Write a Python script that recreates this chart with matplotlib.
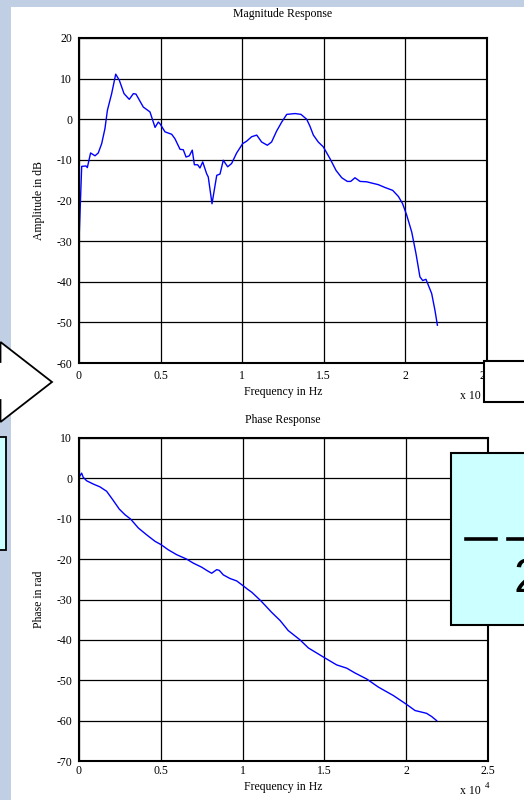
import matplotlib
matplotlib.use("Agg")
import matplotlib.pyplot as plt
from matplotlib.patches import Rectangle, Polygon
from matplotlib.lines import Line2D

plt.rcParams["font.family"] = ["Liberation Serif", "DejaVu Serif"]
plt.rcParams["axes.unicode_minus"] = False

W, H = 524, 800

# frequency in units of 1e4 Hz, magnitude in dB
mag_freq = [0.0, 0.0165, 0.043, 0.051, 0.071, 0.098, 0.118, 0.139, 0.159, 0.174,
            0.2, 0.225, 0.247, 0.276, 0.308, 0.333, 0.349, 0.394, 0.435, 0.466,
            0.486, 0.496, 0.527, 0.568, 0.588, 0.619, 0.639, 0.656, 0.676, 0.694,
            0.707, 0.727, 0.741, 0.758, 0.782, 0.792, 0.815, 0.844, 0.864, 0.884,
            0.911, 0.935, 0.966, 1.003, 1.027, 1.058, 1.089, 1.119, 1.154, 1.18,
            1.211, 1.242, 1.273, 1.324, 1.36, 1.395, 1.415, 1.436, 1.466, 1.497,
            1.538, 1.575, 1.61, 1.644, 1.665, 1.691, 1.722, 1.763, 1.793, 1.834,
            1.875, 1.922, 1.957, 1.983, 2.008, 2.039, 2.065, 2.089, 2.106, 2.126,
            2.161, 2.181, 2.196]
mag_db = [-30.0, -11.6, -11.5, -11.9, -8.3, -9.0, -8.3, -6.0, -2.3, 2.2,
          6.3, 11.1, 9.6, 6.3, 4.9, 6.3, 6.2, 3.0, 1.8, -2.0,
          -0.7, -1.1, -3.1, -3.7, -4.8, -7.4, -7.5, -9.3, -9.0, -7.6,
          -11.2, -11.2, -12.0, -10.5, -13.4, -14.2, -20.8, -13.8, -13.5, -10.1,
          -11.7, -10.9, -8.3, -6.0, -5.4, -4.3, -3.9, -5.6, -6.4, -5.6,
          -2.9, -0.7, 1.2, 1.4, 1.2, 0.0, -1.7, -3.9, -5.6, -6.8,
          -9.7, -12.6, -14.4, -15.3, -15.3, -14.4, -15.3, -15.4, -15.7, -16.1,
          -16.8, -17.5, -19.0, -20.8, -23.6, -27.8, -33.1, -38.8, -39.7, -39.4,
          -42.9, -47.0, -50.7]

# phase in rad
ph_freq = [0.0, 0.016, 0.026, 0.047, 0.087, 0.128, 0.169, 0.21, 0.246, 0.281,
           0.316, 0.363, 0.414, 0.465, 0.501, 0.546, 0.597, 0.658, 0.699, 0.75,
           0.781, 0.811, 0.842, 0.858, 0.882, 0.923, 0.964, 1.0, 1.035, 1.056,
           1.111, 1.178, 1.229, 1.279, 1.351, 1.402, 1.504, 1.575, 1.636, 1.687,
           1.759, 1.83, 1.922, 2.003, 2.054, 2.095, 2.125, 2.156, 2.186]
ph_rad = [0.25, 1.3, 0.25, -0.6, -1.4, -2.1, -3.2, -5.5, -7.6, -9.0,
          -10.1, -12.3, -14.0, -15.6, -16.4, -17.7, -18.9, -20.0, -21.0, -22.0,
          -22.8, -23.5, -22.6, -22.8, -23.9, -24.8, -25.4, -26.5, -27.6, -28.2,
          -30.3, -33.2, -35.2, -37.7, -40.0, -42.0, -44.5, -46.2, -47.0, -48.2,
          -49.7, -51.7, -53.8, -56.0, -57.5, -57.9, -58.2, -59.0, -60.0]

x_ticks = [0, 0.5, 1, 1.5, 2, 2.5]
x_tick_labels = ["0", "0.5", "1", "1.5", "2", "2.5"]


def fx(px):
    return px / W


def fy(py):
    return 1 - py / H


def style_axes(ax, ylim, yticks, xpad):
    ax.set_xlim(0, 2.5)
    ax.set_ylim(*ylim)
    ax.set_xticks(x_ticks)
    ax.set_xticklabels(x_tick_labels)
    ax.set_yticks(yticks)
    ax.set_yticklabels([str(t) for t in yticks])
    ax.tick_params(length=0, labelsize=8.5)
    ax.tick_params(axis="y", pad=5)
    ax.tick_params(axis="x", pad=xpad)
    ax.grid(True, color="black", linewidth=0.9, linestyle="-")
    ax.set_axisbelow(True)
    for s in ax.spines.values():
        s.set_linewidth(1.5)
        s.set_color("black")


fig = plt.figure(figsize=(W / 100, H / 100), dpi=100, facecolor="white")

# slide background strips
bg = "#c0cfe4"
fig.patches.append(Rectangle((0, 0), fx(11), 1, transform=fig.transFigure,
                             facecolor=bg, edgecolor="none", zorder=0))
fig.patches.append(Rectangle((0, fy(7)), 1, 1 - fy(7), transform=fig.transFigure,
                             facecolor=bg, edgecolor="none", zorder=0))

ax1 = fig.add_axes([fx(79), fy(363), fx(487) - fx(79), fy(38) - fy(363)])
ax1.plot(mag_freq, mag_db, color="#0000ff", linewidth=1.0)
style_axes(ax1, (-60, 20), list(range(-60, 21, 10)), xpad=5)
ax1.set_xlabel("Frequency in Hz", fontsize=8.5, labelpad=3)
ax1.set_ylabel("Amplitude in dB", fontsize=8.5, labelpad=8)
fig.text(fx(283), fy(14), "Magnitude Response", ha="center", va="center", fontsize=8.5)
fig.text(fx(470), fy(396), "x 10", ha="center", va="center", fontsize=8.5)

ax2 = fig.add_axes([fx(79), fy(761), fx(488) - fx(79), fy(438) - fy(761)])
ax2.plot(ph_freq, ph_rad, color="#0000ff", linewidth=1.0)
style_axes(ax2, (-70, 10), list(range(-70, 11, 10)), xpad=3)
ax2.set_xlabel("Frequency in Hz", fontsize=8.5, labelpad=3)
ax2.set_ylabel("Phase in rad", fontsize=8.5, labelpad=8)
fig.text(fx(283), fy(420), "Phase Response", ha="center", va="center", fontsize=8.5)
fig.text(fx(470), fy(791), "x 10", ha="center", va="center", fontsize=8.5)
fig.text(fx(487), fy(786), "4", ha="center", va="center", fontsize=6.5)

# overlapping slide shapes
arrow = Polygon([(fx(-30), fy(362)), (fx(0.5), fy(362)), (fx(0.5), fy(342)),
                 (fx(52), fy(382)), (fx(0.5), fy(422)), (fx(0.5), fy(400)),
                 (fx(-30), fy(400))], closed=True, transform=fig.transFigure,
                facecolor="white", edgecolor="black", linewidth=1.3, zorder=5)
fig.patches.append(arrow)

cyan = "#ccffff"
fig.patches.append(Rectangle((fx(-10), fy(550)), fx(16), fy(437) - fy(550),
                             transform=fig.transFigure, facecolor=cyan,
                             edgecolor="black", linewidth=1.3, zorder=5))
fig.patches.append(Rectangle((fx(484), fy(402)), fx(60), fy(361) - fy(402),
                             transform=fig.transFigure, facecolor="white",
                             edgecolor="black", linewidth=1.5, zorder=5))
fig.patches.append(Rectangle((fx(451), fy(625)), fx(90), fy(453) - fy(625),
                             transform=fig.transFigure, facecolor=cyan,
                             edgecolor="black", linewidth=1.5, zorder=5))
fig.lines.append(Line2D([fx(466), fx(496)], [fy(539), fy(539)], transform=fig.transFigure,
                        color="black", linewidth=2.6, zorder=6))
fig.lines.append(Line2D([fx(508), fx(530)], [fy(539), fy(539)], transform=fig.transFigure,
                        color="black", linewidth=2.6, zorder=6))
fig.text(fx(514), fy(580), "2", ha="left", va="center", fontsize=35,
         family=["Liberation Sans", "DejaVu Sans"], zorder=6)

fig.savefig("out.png", dpi=100)
